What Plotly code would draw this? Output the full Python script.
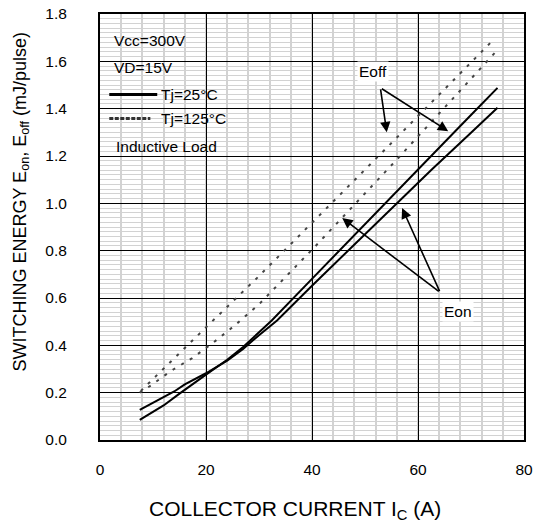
import plotly.graph_objects as go

# ---- data ----
ic_25a = [7.5, 10, 12, 15, 18, 20, 24, 27, 30, 32.4, 40, 50, 56.7, 59.8, 65, 70, 75]
e_25a = [0.085, 0.118, 0.146, 0.196, 0.245, 0.276, 0.339, 0.393, 0.455, 0.505, 0.681, 0.91, 1.065, 1.138, 1.258, 1.373, 1.488]

ic_25b = [7.5, 10, 12, 14, 16, 18, 20, 24, 27, 30, 33.4, 40, 50, 56.7, 62.6, 70, 75]
e_25b = [0.127, 0.157, 0.18, 0.205, 0.235, 0.258, 0.282, 0.335, 0.385, 0.443, 0.505, 0.652, 0.87, 1.016, 1.143, 1.298, 1.404]

ic_125a = [7.7, 9.5, 20.5, 29.6, 53.0, 74.0]
e_125a = [0.207, 0.247, 0.487, 0.684, 1.21, 1.686]

ic_125b = [7.5, 9.8, 11.7, 13.9, 17.4, 21.4, 25.2, 29.9, 40.6, 56.0, 74.5]
e_125b = [0.2, 0.233, 0.265, 0.299, 0.346, 0.412, 0.48, 0.571, 0.818, 1.185, 1.636]

x_ticks = [0, 20, 40, 60, 80]
y_ticks = [0.0, 0.2, 0.4, 0.6, 0.8, 1.0, 1.2, 1.4, 1.6, 1.8]

FONT = "Arial, Liberation Sans, sans-serif"

fig = go.Figure()
solid = dict(color="black", width=2)
dotted = dict(color="#444444", width=2, dash="3px,7px")
fig.add_trace(go.Scatter(x=ic_25a, y=e_25a, mode="lines", line=solid, name="Eoff Tj=25°C"))
fig.add_trace(go.Scatter(x=ic_25b, y=e_25b, mode="lines", line=solid, name="Eon Tj=25°C"))
fig.add_trace(go.Scatter(x=ic_125a, y=e_125a, mode="lines", line=dotted, name="Eoff Tj=125°C"))
fig.add_trace(go.Scatter(x=ic_125b, y=e_125b, mode="lines", line=dotted, name="Eon Tj=125°C"))

# legend-like sample lines
fig.add_shape(type="line", x0=1.75, x1=10.8, y0=1.46, y1=1.46, xref="x", yref="y",
              line=dict(color="black", width=3))
fig.add_shape(type="line", x0=1.75, x1=9.5, y0=1.358, y1=1.358, xref="x", yref="y",
              line=dict(color="#333333", width=3, dash="4px,1.5px"))

txt = dict(family=FONT, size=15.5, color="black")
for t, x, y in [("Vcc=300V", 2.3, 1.689), ("VD=15V", 2.3, 1.574),
                ("Tj=25°C", 11.2, 1.46), ("Tj=125°C", 11.2, 1.358),
                ("Inductive Load", 2.6, 1.24)]:
    fig.add_annotation(x=x, y=y, text=t, showarrow=False, xanchor="left", yanchor="middle", font=txt)

# Eoff label + arrows
fig.add_annotation(x=51.6, y=1.559, text="Eoff", showarrow=False, font=txt, bgcolor="white")
for tx, ty in [(54.1, 1.30), (65.7, 1.305)]:
    fig.add_annotation(x=tx, y=ty, ax=52.9, ay=1.488, axref="x", ayref="y", text="",
                       showarrow=True, arrowhead=2, arrowsize=1.3, arrowwidth=1.6, arrowcolor="black")
# Eon label + arrows
fig.add_annotation(x=67.5, y=0.543, text="Eon", showarrow=False, font=txt, bgcolor="white")
for tx, ty in [(45.7, 0.938), (57.0, 0.98)]:
    fig.add_annotation(x=tx, y=ty, ax=64.2, ay=0.623, axref="x", ayref="y", text="",
                       showarrow=True, arrowhead=2, arrowsize=1.3, arrowwidth=1.6, arrowcolor="black")

# axis titles
fig.add_annotation(xref="paper", yref="paper", x=0.459, y=-0.164, text="COLLECTOR CURRENT I<sub>C</sub> (A)",
                   showarrow=False, font=dict(family=FONT, size=21, color="black"), xanchor="center", yanchor="middle")
fig.add_annotation(xref="paper", yref="paper", x=-0.186, y=0.56,
                   text="SWITCHING ENERGY E<sub>on</sub>, E<sub>off</sub> (mJ/pulse)", textangle=-90,
                   showarrow=False, font=dict(family=FONT, size=18, color="black"), xanchor="center", yanchor="middle")

fig.update_layout(
    width=537, height=527,
    margin=dict(l=100, r=13, t=14, b=87),
    paper_bgcolor="white", plot_bgcolor="white",
    showlegend=False,
    font=dict(family=FONT, size=15.5, color="black"),
)
fig.update_xaxes(range=[0, 80], tickvals=x_ticks, ticktext=[str(v) for v in x_ticks],
                 showgrid=True, gridcolor="black", gridwidth=1, automargin=False,
                 minor=dict(dtick=4, showgrid=True, gridcolor="#d2d2d2", gridwidth=1.5),
                 showline=True, linecolor="black", linewidth=2, mirror=True,
                 ticks="", ticklabelstandoff=14, zeroline=False, ticklabeloverflow="allow",
                 tickfont=dict(family=FONT, size=15.5, color="black"))
fig.update_yaxes(range=[0, 1.8], tickvals=y_ticks, ticktext=[f"{v:.1f}" for v in y_ticks],
                 showgrid=True, gridcolor="black", gridwidth=1, automargin=False,
                 minor=dict(dtick=0.02, showgrid=True, gridcolor="#d2d2d2", gridwidth=1),
                 showline=True, linecolor="black", linewidth=2, mirror=True,
                 ticks="", ticklabelstandoff=28, zeroline=False, ticklabeloverflow="allow",
                 tickfont=dict(family=FONT, size=15.5, color="black"))

fig.write_html("out.html", config={"displayModeBar": False},
               post_script="document.body.style.margin='0px';")
